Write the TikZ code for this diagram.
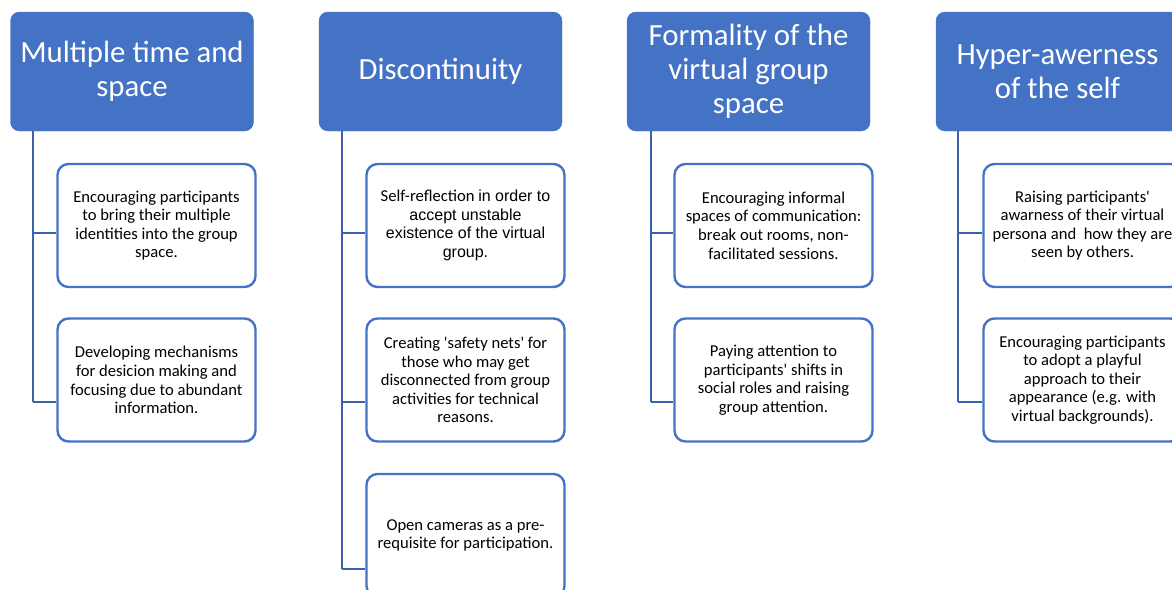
\documentclass[tikz,border=0pt]{standalone}
\usepackage{fontspec}
\setmainfont[Ligatures=TeXOff]{Carlito}
\newfontfamily\arialf[Ligatures=TeXOff]{Liberation Sans}
\definecolor{hdr}{HTML}{4472C4}
\definecolor{conn}{HTML}{3A62AC}
\tikzset{
  hdrbox/.style={draw=hdr, fill=hdr, rounded corners=9pt, minimum width=243pt, minimum height=119pt,
    text=white, align=center, inner sep=0pt, font=\fontsize{30.8}{34}\selectfont},
  itembox/.style={draw=hdr, fill=white, line width=2.4pt, rounded corners=11pt, minimum width=198pt,
    minimum height=123pt, align=center, inner sep=0pt, font=\fontsize{16.6}{18.6}\selectfont},
  connline/.style={draw=conn, line width=2.8pt, line join=miter},
}
\begin{document}
\begin{tikzpicture}[x=1pt,y=-1pt]
\useasboundingbox (0,0) rectangle (1172,589);
% headers
\node[hdrbox] (h1) at (132,71.5) {Multiple time and\\space};
\node[hdrbox] (h2) at (440.5,71.5) {Discontinuity};
\node[hdrbox] (h3) at (748.5,71.5) {Formality of the\\virtual group\\space};
\node[hdrbox] (h4) at (1057.5,71.5) {Hyper-awerness\\of the self};
% branch coordinates
\coordinate (b11) at (33,233);  \coordinate (b12) at (33,402);
\coordinate (b21) at (342,233); \coordinate (b22) at (342,402); \coordinate (b23) at (342,569);
\coordinate (b31) at (651,233); \coordinate (b32) at (651,402);
\coordinate (b41) at (958,233); \coordinate (b42) at (958,402);
% vertical connectors
\draw[connline] (h1.south -| b11) -- (b12);
\draw[connline] (h2.south -| b21) -- (b23);
\draw[connline] (h3.south -| b31) -- (b32);
\draw[connline] (h4.south -| b41) -- (b42);
% items
\node[itembox] (c11) at (156.5,225.5) {Encouraging participants\\to bring their multiple\\identities into the group\\space.};
\node[itembox] (c12) at (156.5,380) {Developing mechanisms\\for desicion making and\\focusing due to abundant\\information.};
\node[itembox] (c21) at (465.5,225.5) {Self-reflection {\arialf\fontsize{16}{18.6}\selectfont in order to}\\{\arialf\fontsize{16}{18.6}\selectfont accept unstable}\\{\arialf\fontsize{16}{18.6}\selectfont existence of the virtual}\\{\arialf\fontsize{16}{18.6}\selectfont group.}};
\node[itembox] (c22) at (465.5,380) {Creating 'safety nets' for\\those who may get\\disconnected from group\\activities for technical\\reasons.};
\node[itembox] (c23) at (465.5,535.5) {Open cameras as a pre-\\requisite for participation.};
\node[itembox] (c31) at (773.5,225.5) {Encouraging informal\\spaces of communication:\\break out rooms, non-\\facilitated sessions.};
\node[itembox] (c32) at (773.5,380) {Paying attention to\\participants' shifts in\\social roles and raising\\group attention.};
\node[itembox] (c41) at (1082.5,225.5) {Raising participants'\\awarness of their virtual\\persona and\ \ how they are\\seen by others.};
\node[itembox] (c42) at (1082.5,380) {Encouraging participants\\to adopt a playful\\approach to their\\appearance (e.g. with\\virtual backgrounds).};
% horizontal branches
\draw[connline] (b11) -- (c11.west |- b11);
\draw[connline] (b12) -- (c12.west |- b12);
\draw[connline] (b21) -- (c21.west |- b21);
\draw[connline] (b22) -- (c22.west |- b22);
\draw[connline] (b23) -- (c23.west |- b23);
\draw[connline] (b31) -- (c31.west |- b31);
\draw[connline] (b32) -- (c32.west |- b32);
\draw[connline] (b41) -- (c41.west |- b41);
\draw[connline] (b42) -- (c42.west |- b42);
\end{tikzpicture}
\end{document}
